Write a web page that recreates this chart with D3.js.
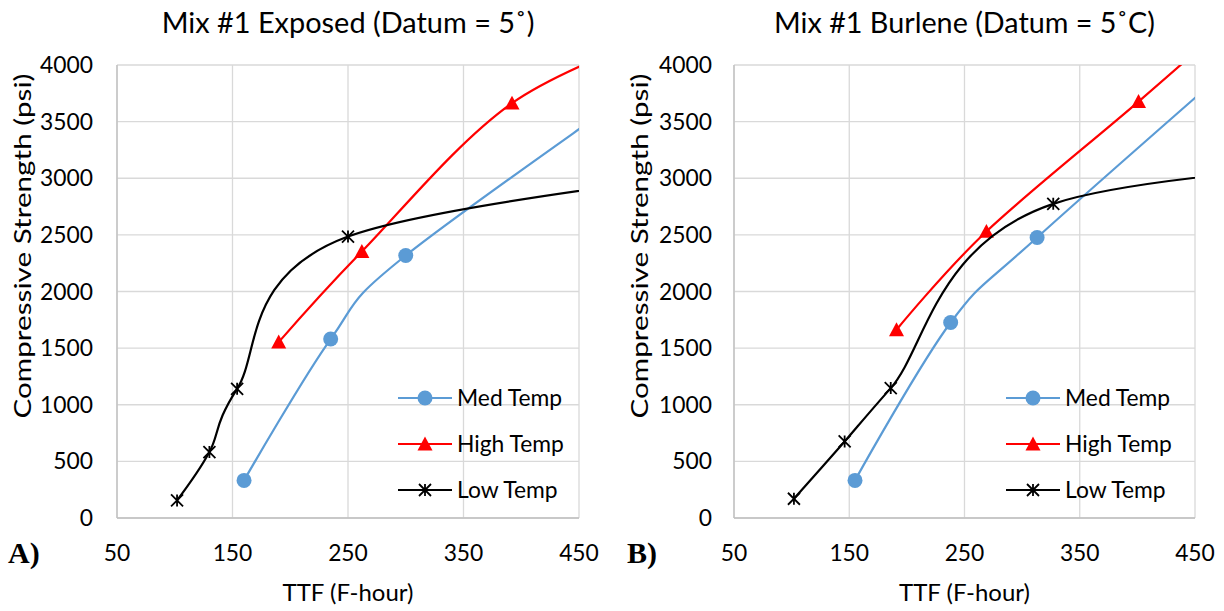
<!DOCTYPE html>
<html><head><meta charset="utf-8">
<script src="https://cdn.jsdelivr.net/npm/d3@7"></script>
<style>body{margin:0;background:#fff} text{font-family:Lato,"Open Sans",sans-serif;fill:#000}</style>
</head><body><svg id="c" width="1224" height="611"></svg>
<script>
// ---------- data ----------
const xTicks = [50, 150, 250, 350, 450];
const yTicks = [0, 500, 1000, 1500, 2000, 2500, 3000, 3500, 4000];
const seriesNames = ["Med Temp", "High Temp", "Low Temp"];
const titles = ["Mix #1 Exposed (Datum = 5\u02DA)", "Mix #1 Burlene (Datum = 5\u02DAC)"];
const tags = ["A)", "B)"];
const xTitle = "TTF (F-hour)";
const yTitle = "Compressive Strength (psi)";

// Panel A (Exposed) — last point of each series lies beyond the axis range (clipped)
const aMedX  = [160, 235, 300, 550];
const aMedY  = [332, 1580, 2318, 4150];
const aHighX = [190, 262, 392, 540];
const aHighY = [1553, 2353, 3663, 4350];
const aLowX  = [102, 130, 154, 250, 700];
const aLowY  = [155, 582, 1141, 2485, 3200];
// Panel B (Burlene)
const bMedX  = [155, 238, 313, 550];
const bMedY  = [332, 1726, 2477, 4600];
const bHighX = [191, 269, 401, 500];
const bHighY = [1662, 2530, 3677, 4560];
const bLowX  = [102, 146, 186, 327, 800];
const bLowY  = [170, 676, 1147, 2774, 3250];

const colors = ["#5B9BD5", "#FF0000", "#000000"];
const markers = ["circle", "triangle", "star"];

// ---------- layout ----------
const plotTop = 65, plotBottom = 518;
const panels = [
  { x0: 117, x1: 579, legendX: 398, tagX: 8, yTitleX: 31, tickRight: 93,
    series: [[aMedX, aMedY], [aHighX, aHighY], [aLowX, aLowY]], titleW: 373 },
  { x0: 734, x1: 1195, legendX: 1006, tagX: 627, yTitleX: 648, tickRight: 712,
    series: [[bMedX, bMedY], [bHighX, bHighY], [bLowX, bLowY]], titleW: 381 }
];
const legendRows = [398, 444, 490];

const svg = d3.select("#c");

function fit(sel, w) {
  const l = sel.node().getComputedTextLength();
  const fs = parseFloat(sel.attr("font-size"));
  sel.attr("font-size", fs * w / l);
  return fs * w / l;
}

const probe = svg.append("text").attr("font-size", 20).text("4000");
const tickFS = fit(probe, 53);
probe.remove();

function drawMarker(g, type, cx, cy, color) {
  if (type === "circle") {
    g.append("circle").attr("cx", cx).attr("cy", cy).attr("r", 7.5).attr("fill", color);
  } else if (type === "triangle") {
    const s = 7.5;
    g.append("path").attr("d", `M${cx},${cy - s}L${cx + s},${cy + s * 0.85}L${cx - s},${cy + s * 0.85}Z`).attr("fill", color);
  } else {
    const s = 6;
    g.append("path")
      .attr("d", `M${cx - s},${cy - s}L${cx + s},${cy + s}M${cx - s},${cy + s}L${cx + s},${cy - s}M${cx},${cy - s}L${cx},${cy + s}`)
      .attr("stroke", color).attr("stroke-width", 1.8).attr("fill", "none");
  }
}

panels.forEach((p, pi) => {
  const x = d3.scaleLinear().domain([50, 450]).range([p.x0, p.x1]);
  const y = d3.scaleLinear().domain([0, 4000]).range([plotBottom, plotTop]);
  const g = svg.append("g");

  g.selectAll(".vg").data(xTicks).join("line")
    .attr("x1", d => x(d)).attr("x2", d => x(d)).attr("y1", plotTop).attr("y2", plotBottom)
    .attr("stroke", "#D9D9D9").attr("stroke-width", 1.3);
  g.selectAll(".hg").data(yTicks).join("line")
    .attr("x1", p.x0).attr("x2", p.x1).attr("y1", d => y(d)).attr("y2", d => y(d))
    .attr("stroke", "#D9D9D9").attr("stroke-width", 1.3);
  g.append("line").attr("x1", p.x0).attr("x2", p.x0).attr("y1", plotTop).attr("y2", plotBottom)
    .attr("stroke", "#BFBFBF").attr("stroke-width", 1.3);
  g.append("line").attr("x1", p.x0).attr("x2", p.x1).attr("y1", plotBottom).attr("y2", plotBottom)
    .attr("stroke", "#BFBFBF").attr("stroke-width", 1.3);

  g.selectAll(".xt").data(xTicks).join("text")
    .attr("x", d => x(d)).attr("y", 561).attr("text-anchor", "middle")
    .attr("font-size", tickFS).text(d => d);
  g.selectAll(".yt").data(yTicks).join("text")
    .attr("x", p.tickRight).attr("y", d => y(d) + 8).attr("text-anchor", "end")
    .attr("font-size", tickFS).text(d => d);

  const t = g.append("text").attr("x", (p.x0 + p.x1) / 2).attr("y", 33)
    .attr("text-anchor", "middle").attr("font-size", 26).text(titles[pi]);
  fit(t, p.titleW);
  const xt = g.append("text").attr("x", (p.x0 + p.x1) / 2).attr("y", 601)
    .attr("text-anchor", "middle").attr("font-size", 22).text(xTitle);
  fit(xt, 131);
  g.append("text").attr("transform", `translate(${p.yTitleX},246) rotate(-90)`)
    .attr("text-anchor", "middle").attr("font-size", 24)
    .attr("textLength", 345).attr("lengthAdjust", "spacingAndGlyphs").text(yTitle);
  g.append("text").attr("x", p.tagX).attr("y", 563)
    .style("font-family", "'Liberation Serif','Times New Roman',serif").attr("font-weight", "bold")
    .attr("font-size", 30).text(tags[pi]);

  const cid = "clip" + pi;
  svg.append("clipPath").attr("id", cid).append("rect")
    .attr("x", p.x0).attr("y", plotTop).attr("width", p.x1 - p.x0).attr("height", plotBottom - plotTop);
  const plot = g.append("g").attr("clip-path", `url(#${cid})`);

  const line = d3.line().x(d => x(d[0])).y(d => y(d[1])).curve(d3.curveCardinal.tension(0));
  p.series.forEach((s, si) => {
    const pts = s[0].map((v, i) => [v, s[1][i]]);
    plot.append("path").attr("d", line(pts)).attr("fill", "none")
      .attr("stroke", colors[si]).attr("stroke-width", 2.2);
    pts.forEach(d => drawMarker(plot, markers[si], x(d[0]), y(d[1]), colors[si]));
  });

  seriesNames.forEach((n, si) => {
    const ly = legendRows[si];
    g.append("line").attr("x1", p.legendX).attr("x2", p.legendX + 54).attr("y1", ly).attr("y2", ly)
      .attr("stroke", colors[si]).attr("stroke-width", 2.2);
    drawMarker(g, markers[si], p.legendX + 27, ly, colors[si]);
    g.append("text").attr("x", p.legendX + 59).attr("y", ly + 8)
      .attr("font-size", tickFS).text(n);
  });
});
</script></body></html>
